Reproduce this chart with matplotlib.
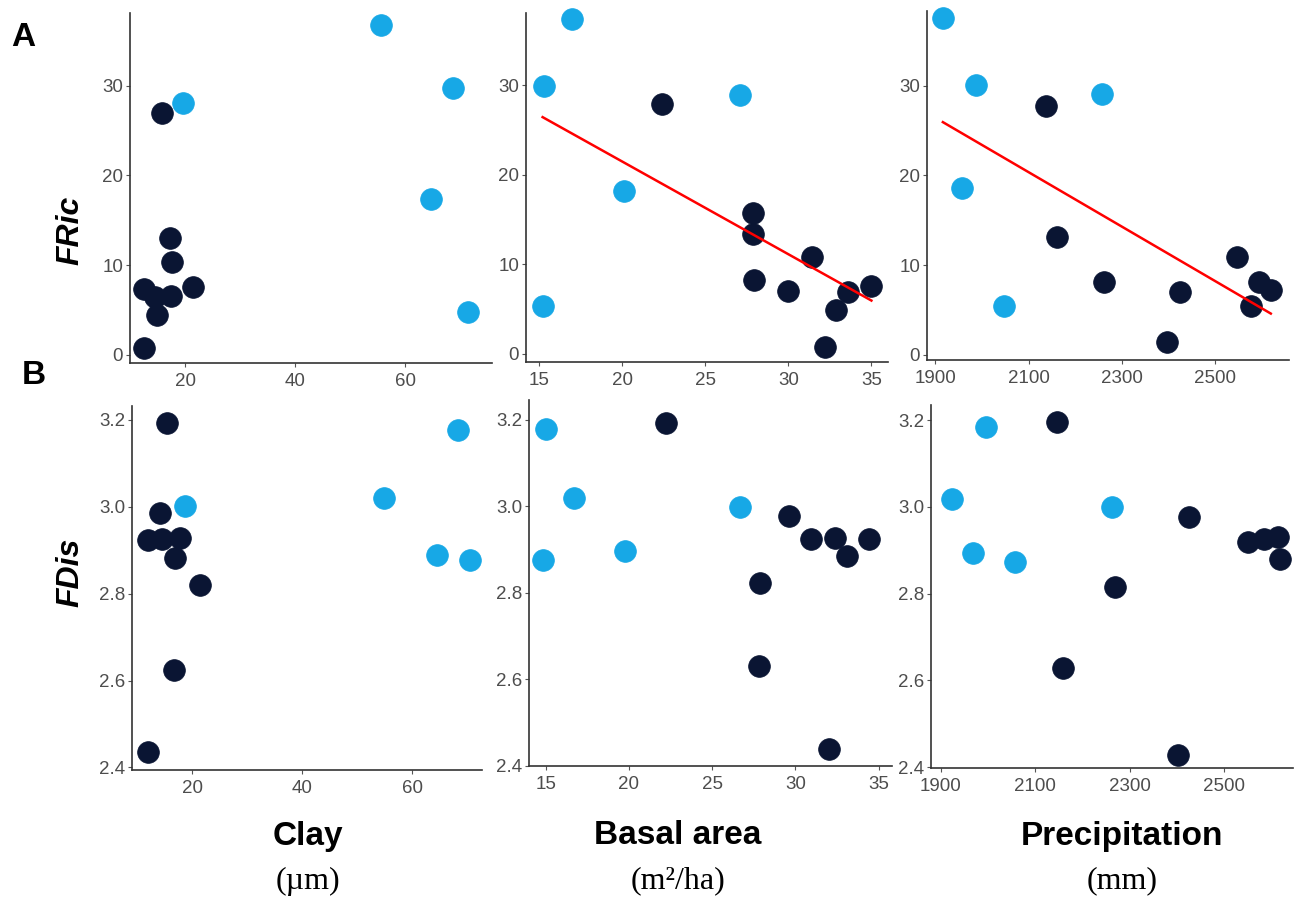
import numpy as np
import matplotlib
matplotlib.use("Agg")
import matplotlib.pyplot as plt

plt.rcParams["font.family"] = "Liberation Sans"

# === data ===
# group: "L" = light blue sites, "D" = dark sites

# Row A - FRic
a_clay_x = [55.6, 68.7, 64.7, 71.5, 19.6, 15.8, 17.3, 17.6, 12.5, 14.5, 17.5, 21.5, 14.9, 12.5]
a_clay_y = [36.8, 29.7, 17.4, 4.8, 28.1, 27.0, 13.0, 10.4, 7.4, 6.5, 6.6, 7.6, 4.5, 0.8]
a_clay_g = ["L", "L", "L", "L", "L", "D", "D", "D", "D", "D", "D", "D", "D", "D"]

a_basal_x = [17.0, 15.3, 20.1, 15.2, 27.1, 22.4, 27.9, 27.9, 27.95, 30.0, 31.4, 32.85, 33.6, 35.0, 32.2]
a_basal_y = [37.4, 29.9, 18.2, 5.4, 28.9, 27.9, 15.8, 13.4, 8.3, 7.0, 10.8, 4.9, 6.9, 7.6, 0.75]
a_basal_g = ["L", "L", "L", "L", "L", "D", "D", "D", "D", "D", "D", "D", "D", "D", "D"]

a_prec_x = [1916, 1987, 1957, 2048, 2257, 2137, 2161, 2261, 2397, 2425, 2547, 2577, 2593, 2619]
a_prec_y = [37.5, 30.1, 18.6, 5.4, 29.1, 27.7, 13.1, 8.1, 1.4, 7.0, 10.9, 5.4, 8.1, 7.2]
a_prec_g = ["L", "L", "L", "L", "L", "D", "D", "D", "D", "D", "D", "D", "D", "D"]

# Row B - FDis
b_clay_x = [68.3, 54.9, 18.6, 64.5, 70.5, 15.4, 14.05, 11.9, 14.5, 17.7, 16.8, 21.3, 16.6, 11.9]
b_clay_y = [3.176, 3.021, 3.001, 2.890, 2.877, 3.192, 2.986, 2.923, 2.925, 2.927, 2.881, 2.820, 2.624, 2.435]
b_clay_g = ["L", "L", "L", "L", "L", "D", "D", "D", "D", "D", "D", "D", "D", "D"]

b_basal_x = [15.0, 16.7, 14.85, 19.75, 26.7, 22.2, 29.6, 30.95, 32.4, 33.1, 34.4, 27.9, 27.8, 32.0]
b_basal_y = [3.180, 3.019, 2.877, 2.896, 2.998, 3.192, 2.979, 2.925, 2.927, 2.885, 2.925, 2.822, 2.632, 2.440]
b_basal_g = ["L", "L", "L", "L", "L", "D", "D", "D", "D", "D", "D", "D", "D", "D"]

b_prec_x = [1995, 1923, 1967, 2058, 2262, 2147, 2426, 2551, 2585, 2614, 2619, 2268, 2158, 2403]
b_prec_y = [3.185, 3.018, 2.893, 2.874, 3.000, 3.196, 2.977, 2.918, 2.927, 2.930, 2.880, 2.815, 2.629, 2.429]
b_prec_g = ["L", "L", "L", "L", "L", "D", "D", "D", "D", "D", "D", "D", "D", "D"]

# === style ===
W, H = 1304, 906
COL = {"L": "#17a8e6", "D": "#0a1533"}
TICK_COL = "#4d4d4d"
AXIS_COL = "#333333"

fig = plt.figure(figsize=(W / 100, H / 100), dpi=100)


def px_axes(l, t, r, b):
    return fig.add_axes([l / W, 1 - b / H, (r - l) / W, (b - t) / H])


def panel(box, x, y, g, xlim, ylim, xticks, yticks, fit=False, yfmt="{:.0f}"):
    ax = px_axes(*box)
    x = np.array(x, dtype=float)
    y = np.array(y, dtype=float)
    g = np.array(g)
    for key in ["L", "D"]:
        m = g == key
        ax.scatter(x[m], y[m], s=245, color=COL[key], edgecolor=COL[key],
                   linewidth=0.5, zorder=2, clip_on=False)
    if fit:
        # linear fit, drawn over the data range only
        k, c = np.polyfit(x, y, 1)
        xx = np.array([x.min(), x.max()])
        ax.plot(xx, k * xx + c, color="#ff0000", linewidth=1.8, zorder=3)
    ax.set_xlim(*xlim)
    ax.set_ylim(*ylim)
    ax.set_xticks(xticks)
    ax.set_yticks(yticks)
    ax.set_yticklabels([yfmt.format(v) for v in yticks])
    for s in ["top", "right"]:
        ax.spines[s].set_visible(False)
    for s in ["left", "bottom"]:
        ax.spines[s].set_color(AXIS_COL)
        ax.spines[s].set_linewidth(1.2)
    ax.tick_params(length=3, width=0.8, color="#555555", labelcolor=TICK_COL,
                   labelsize=13.5, pad=2)
    ax.tick_params(axis="x", pad=4)
    ax.patch.set_alpha(0)
    return ax


panel((130, 13, 492, 363), a_clay_x, a_clay_y, a_clay_g, (10, 75.8), (-0.9, 38.1),
      [20, 40, 60], [0, 10, 20, 30])
panel((526, 13, 888, 362), a_basal_x, a_basal_y, a_basal_g, (14.2, 36.0), (-0.9, 38.1),
      [15, 20, 25, 30, 35], [0, 10, 20, 30], fit=True)
panel((927, 11, 1289, 360), a_prec_x, a_prec_y, a_prec_g, (1882, 2658), (-0.56, 38.3),
      [1900, 2100, 2300, 2500], [0, 10, 20, 30], fit=True)

panel((132, 406, 482, 770), b_clay_x, b_clay_y, b_clay_g, (9.0, 72.7), (2.394, 3.232),
      [20, 40, 60], [2.4, 2.6, 2.8, 3.0, 3.2], yfmt="{:.1f}")
panel((529, 400, 892, 766), b_basal_x, b_basal_y, b_basal_g, (14.0, 35.8), (2.403, 3.246),
      [15, 20, 25, 30, 35], [2.4, 2.6, 2.8, 3.0, 3.2], yfmt="{:.1f}")
panel((931, 405, 1293, 768), b_prec_x, b_prec_y, b_prec_g, (1879, 2646), (2.398, 3.235),
      [1900, 2100, 2300, 2500], [2.4, 2.6, 2.8, 3.0, 3.2], yfmt="{:.1f}")


def ftext(x, y, s, **kw):
    fig.text(x / W, 1 - y / H, s, ha="center", va="center", **kw)


# panel letters and y labels
ftext(23.5, 37, "A", fontsize=24, fontweight="bold")
ftext(34, 376, "B", fontsize=24, fontweight="bold")
ftext(70, 230, "FRic", fontsize=23, fontweight="bold", fontstyle="italic", rotation=90)
ftext(70, 572, "FDis", fontsize=23, fontweight="bold", fontstyle="italic", rotation=90)

# bottom variable names and units
names = ["Clay", "Basal area", "Precipitation"]
units = ["(µm)", "(m²/ha)", "(mm)"]
centers = [308, 678, 1122]
for cx, n, u in zip(centers, names, units):
    ftext(cx, 836, n, fontsize=24, fontweight="bold")
    ftext(cx, 881, u, fontsize=23, family="Liberation Serif")

fig.savefig("out.png", dpi=100)
